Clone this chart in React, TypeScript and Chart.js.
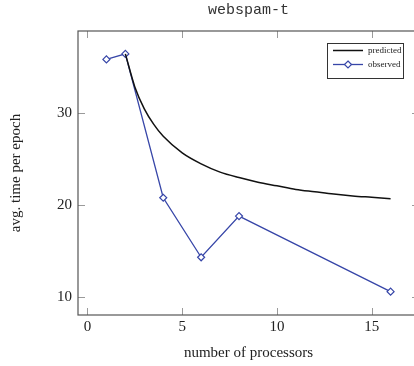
import React, { useEffect, useRef } from "react";
import { Chart, registerables } from "chart.js";

Chart.register(...registerables);

const observedX = [1, 2, 4, 6, 8, 16];
const observedY = [35.9, 36.5, 20.8, 14.3, 18.8, 10.55];

const predictedX = [2, 2.5, 3, 3.5, 4, 5, 6, 7, 8, 9, 10, 11, 12, 13, 14, 15, 16];
const predictedY = [36.5, 32.9, 30.5, 28.8, 27.5, 25.7, 24.5, 23.6, 23.0, 22.5, 22.1, 21.7, 21.45, 21.2, 21.0, 20.85, 20.7];

const xTicks = [0, 5, 10, 15];
const yTicks = [10, 20, 30];

const titleText = "webspam-t";
const xTitle = "number of processors";
const yTitle = "avg. time per epoch";
const seriesLabels = ["predicted", "observed"];

const BLUE = "#3746a8";
const SERIF = "'Liberation Serif', 'DejaVu Serif', serif";
const MONO = "'Liberation Mono', 'DejaVu Sans Mono', monospace";

const CANVAS_W = 420;
const CANVAS_H = 366;

const framePlugin = {
  id: "frameTicks",
  afterDatasetsDraw(chart: any) {
    const { ctx, chartArea } = chart;
    const { left, right, top, bottom } = chartArea;
    const xs = chart.scales.x;
    const ys = chart.scales.y;
    ctx.save();
    // title centred over the plot area
    ctx.fillStyle = "#333";
    ctx.font = `15px ${MONO}`;
    ctx.textAlign = "center";
    ctx.textBaseline = "middle";
    ctx.fillText(titleText, (left + right) / 2, 10);

    // inner ticks
    ctx.strokeStyle = "#9a9a9a";
    ctx.lineWidth = 1;
    const tl = 7;
    ctx.beginPath();
    xs.ticks.forEach((t: any) => {
      const px = Math.round(xs.getPixelForValue(t.value)) + 0.5;
      ctx.moveTo(px, bottom);
      ctx.lineTo(px, bottom - tl);
      ctx.moveTo(px, top);
      ctx.lineTo(px, top + tl);
    });
    ys.ticks.forEach((t: any) => {
      const py = Math.round(ys.getPixelForValue(t.value)) + 0.5;
      ctx.moveTo(left, py);
      ctx.lineTo(left + tl, py);
      ctx.moveTo(right, py);
      ctx.lineTo(right - tl, py);
    });
    ctx.stroke();
    // frame
    ctx.strokeStyle = "#555";
    ctx.lineWidth = 1.2;
    ctx.strokeRect(left, top, right - left, bottom - top);

    // legend
    const bx = 327, by = 43, bw = 76, bh = 35;
    ctx.fillStyle = "#fff";
    ctx.fillRect(bx, by, bw, bh);
    ctx.strokeStyle = "#333";
    ctx.lineWidth = 1;
    ctx.strokeRect(bx + 0.5, by + 0.5, bw, bh);
    const ds = chart.data.datasets;
    const rows = [50.5, 64.5];
    ds.forEach((d: any, i: number) => {
      const y = rows[i];
      ctx.strokeStyle = d.borderColor;
      ctx.lineWidth = d.borderWidth;
      ctx.beginPath();
      ctx.moveTo(333, y);
      ctx.lineTo(363, y);
      ctx.stroke();
      if (d.pointRadius > 0) {
        ctx.fillStyle = "#fff";
        ctx.lineWidth = 1.2;
        const r = 3.5;
        ctx.beginPath();
        ctx.moveTo(348, y - r);
        ctx.lineTo(348 + r, y);
        ctx.lineTo(348, y + r);
        ctx.lineTo(348 - r, y);
        ctx.closePath();
        ctx.fill();
        ctx.stroke();
      }
      ctx.fillStyle = "#222";
      ctx.font = `9px ${SERIF}`;
      ctx.textBaseline = "middle";
      ctx.textAlign = "left";
      ctx.fillText(d.label, 368, y);
    });
    ctx.restore();
  },
};

export default function App() {
  const ref = useRef<HTMLCanvasElement>(null);
  useEffect(() => {
    if (!ref.current) return;
    const chart = new Chart(ref.current, {
      type: "line",
      data: {
        datasets: [
          {
            label: seriesLabels[0],
            data: predictedX.map((x, i) => ({ x, y: predictedY[i] })),
            borderColor: "#111",
            borderWidth: 1.5,
            pointRadius: 0,
            cubicInterpolationMode: "monotone",
            fill: false,
          },
          {
            label: seriesLabels[1],
            data: observedX.map((x, i) => ({ x, y: observedY[i] })),
            borderColor: BLUE,
            borderWidth: 1.3,
            pointStyle: "rectRot",
            pointRadius: 3.5,
            pointBorderWidth: 1.2,
            pointBackgroundColor: "#fff",
            pointBorderColor: BLUE,
            tension: 0,
            fill: false,
          },
        ],
      },
      options: {
        animation: false,
        responsive: false,
        maintainAspectRatio: false,
        layout: { autoPadding: false, padding: { top: 31, right: 1, bottom: 0, left: 0 } },
        plugins: {
          legend: { display: false },
          tooltip: { enabled: false },
          title: { display: false },
        },
        scales: {
          x: {
            type: "linear",
            min: -0.5,
            max: 17.5,
            grid: { display: false, drawTicks: false },
            border: { display: false },
            afterBuildTicks: (s: any) => {
              s.ticks = xTicks.map((v) => ({ value: v }));
            },
            afterFit: (s: any) => {
              s.height = 51;
              s.paddingLeft = 0;
              s.paddingRight = 0;
            },
            ticks: {
              padding: 3,
              color: "#222",
              font: { family: SERIF, size: 15 },
              maxRotation: 0,
            },
            title: {
              display: true,
              text: xTitle,
              color: "#222",
              font: { family: SERIF, size: 15 },
              padding: { top: 0, bottom: 4 },
            },
          },
          y: {
            type: "linear",
            min: 8,
            max: 39,
            grid: { display: false, drawTicks: false },
            border: { display: false },
            afterBuildTicks: (s: any) => {
              s.ticks = yTicks.map((v) => ({ value: v }));
            },
            afterFit: (s: any) => {
              s.width = 78;
              s.paddingTop = 0;
              s.paddingBottom = 0;
            },
            ticks: {
              padding: 6,
              color: "#222",
              font: { family: SERIF, size: 15 },
            },
            title: {
              display: true,
              text: yTitle,
              color: "#222",
              font: { family: SERIF, size: 15 },
              padding: { top: 7, bottom: 0 },
            },
          },
        },
      },
      plugins: [framePlugin],
    } as any);
    return () => chart.destroy();
  }, []);
  return (
    <div style={{ position: "absolute", left: 0, top: 0, width: 414, height: 366, overflow: "hidden", background: "#fff" }}>
      <canvas
        ref={ref}
        width={CANVAS_W}
        height={CANVAS_H}
        style={{ width: CANVAS_W, height: CANVAS_H, display: "block" }}
      />
    </div>
  );
}
